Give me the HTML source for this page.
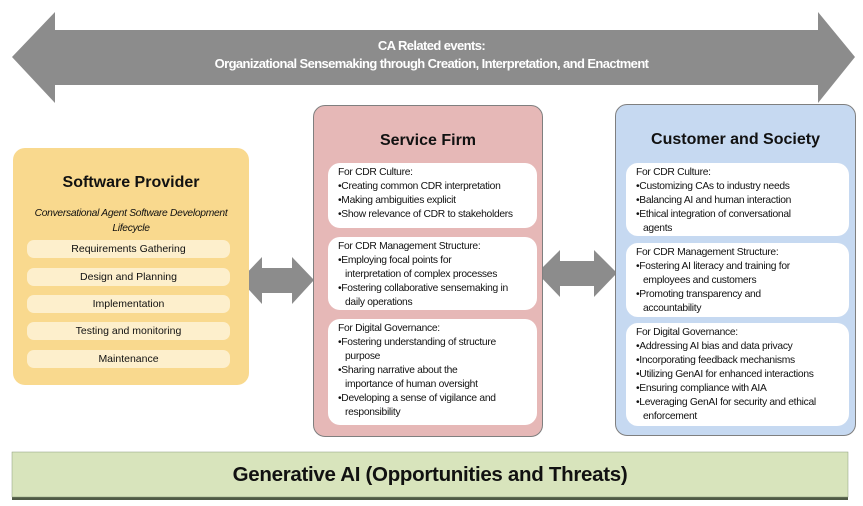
<!DOCTYPE html>
<html><head><meta charset="utf-8"><style>
body{margin:0;width:863px;height:506px;background:#fff;position:relative;overflow:hidden;font-family:"Liberation Sans",sans-serif;}
.abs{position:absolute;}
.box{position:absolute;border:1px solid #7f7f7f;border-radius:12px;}
.title{position:absolute;left:0;right:0;text-align:center;font-weight:bold;font-size:16px;color:#111;}
.inner{position:absolute;background:#fff;border-radius:12px;font-size:10.3px;line-height:14px;color:#111;padding:3px 0 0 10px;box-sizing:border-box;letter-spacing:-0.3px;white-space:nowrap;}
.i{padding-left:7px;}
.pill{position:absolute;left:27px;width:203px;height:18px;background:#fdefcc;border-radius:7px;font-size:10.5px;line-height:18px;text-align:center;color:#111;}
</style></head><body>
<svg class="abs" style="left:0;top:0" width="863" height="506">
<polygon points="12,57 55,12 55,30 818,30 818,12 855,57 818,103 818,85 55,85 55,103" fill="#8c8c8c"/>
<polygon points="240,280 262,257 262,268 292,268 292,257 314,280 292,304 292,293 262,293 262,304" fill="#8c8c8c"/>
<polygon points="537,273 560,250 560,261 594,261 594,250 617,273 594,297 594,286 560,286 560,297" fill="#8c8c8c"/>
<rect x="12" y="455" width="836" height="45" fill="#4f5a45"/>
<rect x="12" y="452" width="836" height="45" fill="#d8e4bc" stroke="#8a9a7a" stroke-width="0.5"/>
</svg>
<div class="abs" style="left:0;width:863px;top:37px;text-align:center;color:#fff;font-size:13px;font-weight:bold;line-height:18px;letter-spacing:-0.6px;">CA Related events:<br>Organizational Sensemaking through Creation, Interpretation, and Enactment</div>
<div class="abs" style="left:12px;width:836px;top:463px;text-align:center;font-weight:bold;font-size:20.5px;color:#111;letter-spacing:-0.3px;">Generative AI (Opportunities and Threats)</div>

<div class="box" style="left:13px;top:148px;width:236px;height:237px;background:#f9d98e;border:none;">
<div class="title" style="top:26px;">Software Provider</div>
<div class="abs" style="left:0;right:0;top:58px;text-align:center;font-style:italic;font-size:10.3px;line-height:15px;color:#111;letter-spacing:-0.3px;">Conversational Agent Software Development<br>Lifecycle</div>
<div class="pill" style="left:14px;top:92px;">Requirements Gathering</div>
<div class="pill" style="left:14px;top:120px;">Design and Planning</div>
<div class="pill" style="left:14px;top:147px;">Implementation</div>
<div class="pill" style="left:14px;top:174px;">Testing and monitoring</div>
<div class="pill" style="left:14px;top:202px;">Maintenance</div>
</div>

<div class="box" style="left:313px;top:105px;width:228px;height:330px;background:#e6b8b7;">
<div class="title" style="top:26px;">Service Firm</div>
<div class="inner" style="left:14px;top:57px;width:209px;height:65px;">For CDR Culture:<br>•Creating common CDR interpretation<br>•Making ambiguities explicit<br>•Show relevance of CDR to stakeholders</div>
<div class="inner" style="left:14px;top:131px;width:209px;height:73px;">For CDR Management Structure:<br>•Employing focal points for<br><span class="i">interpretation of complex processes</span><br>•Fostering collaborative sensemaking in<br><span class="i">daily operations</span></div>
<div class="inner" style="left:14px;top:213px;width:209px;height:106px;">For Digital Governance:<br>•Fostering understanding of structure<br><span class="i">purpose</span><br>•Sharing narrative about the<br><span class="i">importance of human oversight</span><br>•Developing a sense of vigilance and<br><span class="i">responsibility</span></div>
</div>

<div class="box" style="left:615px;top:104px;width:239px;height:330px;background:#c6d9f1;">
<div class="title" style="top:26px;">Customer and Society</div>
<div class="inner" style="left:10px;top:58px;width:223px;height:73px;">For CDR Culture:<br>•Customizing CAs to industry needs<br>•Balancing AI and human interaction<br>•Ethical integration of conversational<br><span class="i">agents</span></div>
<div class="inner" style="left:10px;top:138px;width:223px;height:74px;">For CDR Management Structure:<br>•Fostering AI literacy and training for<br><span class="i">employees and customers</span><br>•Promoting transparency and<br><span class="i">accountability</span></div>
<div class="inner" style="left:10px;top:218px;width:223px;height:103px;">For Digital Governance:<br>•Addressing AI bias and data privacy<br>•Incorporating feedback mechanisms<br>•Utilizing GenAI for enhanced interactions<br>•Ensuring compliance with AIA<br>•Leveraging GenAI for security and ethical<br><span class="i">enforcement</span></div>
</div>
</body></html>
